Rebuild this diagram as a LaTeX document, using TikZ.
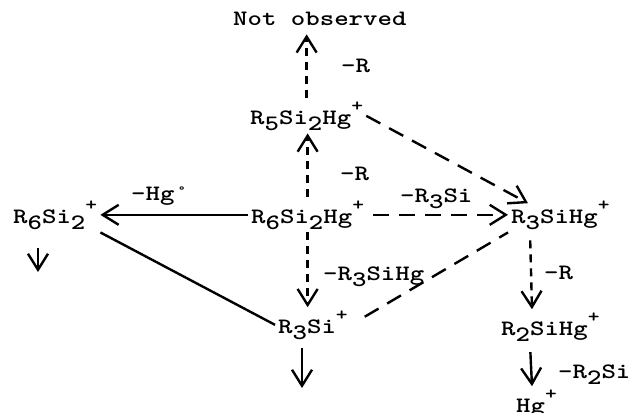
\documentclass[tikz,border=0pt]{standalone}
\usepackage{fontspec}
\usepackage{graphicx}
\usetikzlibrary{arrows.meta}
\newfontfamily\chemtt{lmmonolt10-bold.otf}
\newcommand\chem[1]{\scalebox{1.25}[1]{#1}}
\newcommand\lo[1]{\raisebox{-3pt}{#1}}
\newcommand\hi[1]{\raisebox{6.5pt}{\fontsize{9}{9}\selectfont #1}}

\begin{document}
\begin{tikzpicture}[x=0.5pt,y=-0.5pt,line width=1.2pt,
  every node/.style={font=\chemtt\fontsize{11}{13}\selectfont,inner sep=1pt,anchor=base west},
  link/.style={dash pattern=on 8pt off 5pt},
  stem/.style={dash pattern=on 4pt off 3pt},
  >={Straight Barb[length=8pt,width=10pt]}]
  \useasboundingbox (0,0) rectangle (628,413);
  \node (nobs) at (230,25) {\chem{Not observed}};
  \node (r5) at (247,124) {\chem{R\lo{5}Si\lo{2}Hg\hi{+}}};
  \node (r6hg) at (248,223) {\chem{R\lo{6}Si\lo{2}Hg\hi{+}}};
  \node (r6) at (10,223) {\chem{R\lo{6}Si\lo{2}\hi{+}}};
  \node (r3hg) at (508,223) {\chem{R\lo{3}SiHg\hi{+}}};
  \node (r3) at (275,333) {\chem{R\lo{3}Si\hi{+}}};
  \node (r2hg) at (498,335) {\chem{R\lo{2}SiHg\hi{+}}};
  \node (hg) at (513,412) {\chem{Hg\hi{+}}};
  \node (lr5) at (338,72) {\chem{\textendash R}};
  \node (lr6) at (337,180) {\chem{\textendash R}};
  \node (lhg) at (128,200) {\chem{\textendash Hg°}};
  \node (lr3si) at (397,202) {\chem{\textendash R\lo{3}Si}};
  \node (lr3sihg) at (320,280) {\chem{\textendash R\lo{3}SiHg}};
  \node (lr3hg) at (541,279) {\chem{\textendash R}};
  \node (lr2si) at (555,378) {\chem{\textendash R\lo{2}Si}};
  \coordinate (r6end) at (38,272);
  \coordinate (r3end) at (302,388);
  \draw[stem,->,shorten >=3pt] (r5.north) -- (r5.north |- nobs.south);
  \draw[stem,->] (r6hg.north) -- (r6hg.north |- r5.south);
  \draw[link,->] (r5.east) -- ([xshift=10pt,yshift=-3pt]r3hg.north west);
  \draw[link,->,shorten <=3pt] (r6hg.east) -- (r6hg.east -| r3hg.west);
  \draw[->] (r6hg.west) -- (r6hg.west -| r6.east);
  \draw[stem,->] (r6hg.south) -- (r6hg.south |- r3.north);
  \draw (r6.south east) -- (r3.west);
  \draw[link,shorten <=8pt] (r3.east) -- (r3hg.south west);
  \draw[stem,->,shorten <=4pt] ([xshift=11pt]r3hg.south west) -- ([xshift=17pt]r2hg.north west);
  \draw[->,shorten <=4pt] ([xshift=16pt]r2hg.south west) -- ([xshift=9.5pt]hg.north west);
  \draw[->,shorten <=8pt] (r6end |- r6.south) -- (r6end);
  \draw[->,shorten <=3pt] (r3end |- r3.south) -- (r3end);
\end{tikzpicture}
\end{document}
